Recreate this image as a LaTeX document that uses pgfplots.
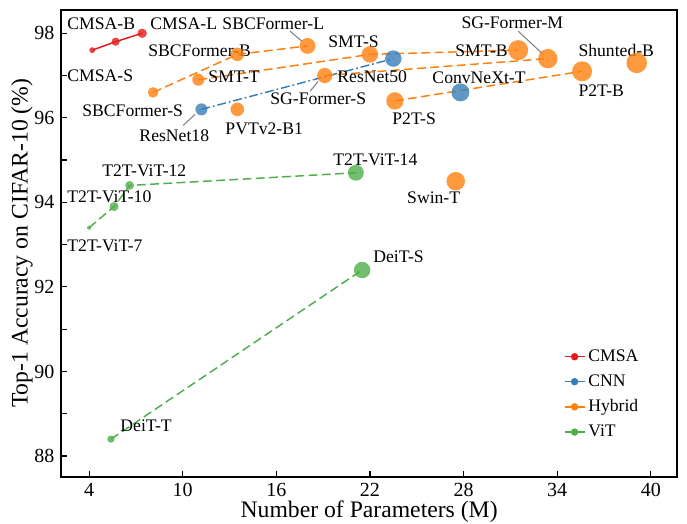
\documentclass[border=0pt]{standalone}
\usepackage{fontspec}
\setmainfont{Liberation Serif}
\usepackage{pgfplots}
\usepackage{pgfplotstable}
\pgfplotsset{compat=1.18}
\definecolor{ccmsa}{HTML}{E41A1C}
\definecolor{ccnn}{HTML}{377EB8}
\definecolor{chyb}{HTML}{FF7F0E}
\definecolor{cvit}{HTML}{4DAF4A}

\pgfplotstableread{
x y r
4.2 97.6 2.0
5.7 97.8 2.8
7.4 98.0 3.2
}\tCMSA
\pgfplotstableread{
x y r
11.2 96.2 4.1
23.5 97.4 5.6
}\tResNet
\pgfplotstableread{
x y r
27.8 96.6 6.1
}\tConvNeXt
\pgfplotstableread{
x y r
8.1 96.6 3.6
13.5 97.5 4.6
18.0 97.7 5.4
}\tSBC
\pgfplotstableread{
x y r
11.0 96.9 4.1
22.0 97.5 5.6
31.5 97.6 6.8
}\tSMT
\pgfplotstableread{
x y r
19.1 97.0 5.2
33.4 97.4 6.6
}\tSG
\pgfplotstableread{
x y r
23.6 96.4 5.9
35.6 97.1 6.8
}\tPtwoT
\pgfplotstableread{
x y r
13.5 96.2 4.6
39.1 97.3 7.0
27.5 94.5 6.3
}\tHybOther
\pgfplotstableread{
x y r
4.0 93.4 1.4
5.6 93.9 3.1
6.6 94.4 3.0
21.1 94.7 5.4
}\tTtwoT
\pgfplotstableread{
x y r
5.4 88.4 2.5
21.5 92.4 5.6
}\tDeiT

\newcommand{\annfont}{\fontsize{12}{14.4}\selectfont}

\begin{document}
\begin{tikzpicture}
\begin{axis}[
  width=419.1pt, height=317.4pt, scale only axis,
  xmin=2.2, xmax=41.7, ymin=87.51, ymax=98.55,
  xtick={4,10,16,22,28,34,40},
  ytick={88,90,92,94,96,98},
  minor ytick={89,91,93,95,97},
  tick align=inside,
  xtick pos=left, ytick pos=left,
  major tick length=4pt, minor tick length=4pt,
  every tick/.style={black, line width=0.8pt},
  axis line style={line width=1.2pt},
  /pgf/number format/assume math mode=true,
  ticklabel style={font=\fontsize{13.6}{16}\selectfont},
  xticklabel style={yshift=-1pt},
  yticklabel style={xshift=-1pt},
  xlabel={Number of Parameters (M)},
  ylabel={Top-1 Accuracy on CIFAR-10 (\%)},
  xlabel style={font=\fontsize{16.1}{19}\selectfont, at={(axis description cs:0.5,-0.0756)}, anchor=center},
  ylabel style={font=\fontsize{16.1}{19}\selectfont, at={(axis description cs:-0.0632,0.5)}, anchor=center, rotate=0},
  legend style={draw=none, fill=none, at={(rel axis cs:0.813,0.282)}, anchor=north west,
    font=\annfont, row sep=3.5pt, inner sep=1pt},
  legend cell align=left,
  legend image code/.code={\draw[mark repeat=2,mark phase=2] plot coordinates {(0cm,0cm) (0.24cm,0cm) (0.48cm,0cm)};},
  scatterstyle/.style={only marks, mark=*, scatter, forget plot, color=#1,
    mark options={draw opacity=0, fill opacity=0.8},
    visualization depends on={\thisrow{r}\as\rr},
    scatter/use mapped color={draw=#1, draw opacity=0, fill=#1, fill opacity=0.8},
    scatter/@pre marker code/.append style={/tikz/mark size=\rr}},
  linestyle/.style={no marks, forget plot, line width=1pt, #1},
]
% markers
\addplot[scatterstyle=ccmsa] table[x=x,y=y] {\tCMSA};
\addplot[scatterstyle=ccnn] table[x=x,y=y] {\tResNet};
\addplot[scatterstyle=ccnn] table[x=x,y=y] {\tConvNeXt};
\addplot[scatterstyle=chyb] table[x=x,y=y] {\tSBC};
\addplot[scatterstyle=chyb] table[x=x,y=y] {\tSMT};
\addplot[scatterstyle=chyb] table[x=x,y=y] {\tSG};
\addplot[scatterstyle=chyb] table[x=x,y=y] {\tPtwoT};
\addplot[scatterstyle=chyb] table[x=x,y=y] {\tHybOther};
\addplot[scatterstyle=cvit] table[x=x,y=y] {\tTtwoT};
\addplot[scatterstyle=cvit] table[x=x,y=y] {\tDeiT};
% lines
\addplot[linestyle={ccmsa}] table[x=x,y=y] {\tCMSA};
\addplot[linestyle={ccnn, dash pattern=on 6pt off 2pt on 1.2pt off 2pt}] table[x=x,y=y] {\tResNet};
\addplot[linestyle={chyb, dash pattern=on 6pt off 3pt}] table[x=x,y=y] {\tSBC};
\addplot[linestyle={chyb, dash pattern=on 6pt off 3pt}] table[x=x,y=y] {\tSMT};
\addplot[linestyle={chyb, dash pattern=on 6pt off 3pt}] table[x=x,y=y] {\tSG};
\addplot[linestyle={chyb, dash pattern=on 6pt off 3pt}] table[x=x,y=y] {\tPtwoT};
\addplot[linestyle={cvit, dash pattern=on 6pt off 3pt}] table[x=x,y=y] {\tTtwoT};
\addplot[linestyle={cvit, dash pattern=on 6pt off 3pt}] table[x=x,y=y] {\tDeiT};
% legend
\addlegendimage{ccmsa, line width=1pt, mark=*, mark size=2pt}
\addlegendentry{CMSA}
\addlegendimage{ccnn, line width=1pt, mark=*, mark size=2pt}
\addlegendentry{CNN}
\addlegendimage{chyb, line width=1pt, mark=*, mark size=2pt}
\addlegendentry{Hybrid}
\addlegendimage{cvit, line width=1pt, mark=*, mark size=2pt}
\addlegendentry{ViT}
% leader lines
\draw[gray, line width=0.7pt] (axis cs:16.88,98.05) -- (axis cs:17.65,97.81);
\draw[gray, line width=0.7pt] (axis cs:10.03,95.82) -- (axis cs:10.79,96.08);
\draw[gray, line width=0.7pt] (axis cs:18.17,96.63) -- (axis cs:18.68,96.86);
\draw[gray, line width=0.7pt] (axis cs:31.5,98.05) -- (axis cs:33.1,97.5);
% labels
\begin{scope}[every node/.style={anchor=base west, inner sep=0pt, font=\annfont}]
\node at (axis cs:2.59,98.09) {CMSA-B};
\node at (axis cs:7.91,98.09) {CMSA-L};
\node at (axis cs:12.53,98.09) {SBCFormer-L};
\node at (axis cs:2.59,96.86) {CMSA-S};
\node at (axis cs:7.78,97.45) {SBCFormer-B};
\node at (axis cs:11.63,96.84) {SMT-T};
\node at (axis cs:3.55,96.03) {SBCFormer-S};
\node at (axis cs:7.21,95.44) {ResNet18};
\node at (axis cs:12.72,95.61) {PVTv2-B1};
\node at (axis cs:15.6,96.32) {SG-Former-S};
\node at (axis cs:19.9,96.84) {ResNet50};
\node at (axis cs:19.32,97.67) {SMT-S};
\node at (axis cs:27.46,97.45) {SMT-B};
\node at (axis cs:27.85,98.12) {SG-Former-M};
\node at (axis cs:35.35,97.45) {Shunted-B};
\node at (axis cs:25.99,96.82) {ConvNeXt-T};
\node at (axis cs:35.35,96.51) {P2T-B};
\node at (axis cs:23.42,95.84) {P2T-S};
\node at (axis cs:19.64,94.87) {T2T-ViT-14};
\node at (axis cs:4.83,94.61) {T2T-ViT-12};
\node at (axis cs:2.59,94.0) {T2T-ViT-10};
\node at (axis cs:2.59,92.83) {T2T-ViT-7};
\node at (axis cs:24.37,93.97) {Swin-T};
\node at (axis cs:22.2,92.57) {DeiT-S};
\node at (axis cs:5.99,88.57) {DeiT-T};
\end{scope}
\coordinate (SW) at (rel axis cs:0,0);
\coordinate (NE) at (rel axis cs:1,1);
\end{axis}
\pgfresetboundingbox
\useasboundingbox ([xshift=-41.5pt,yshift=-31.5pt]SW) rectangle ([xshift=6.6pt,yshift=6.8pt]NE);
\end{tikzpicture}
\end{document}
